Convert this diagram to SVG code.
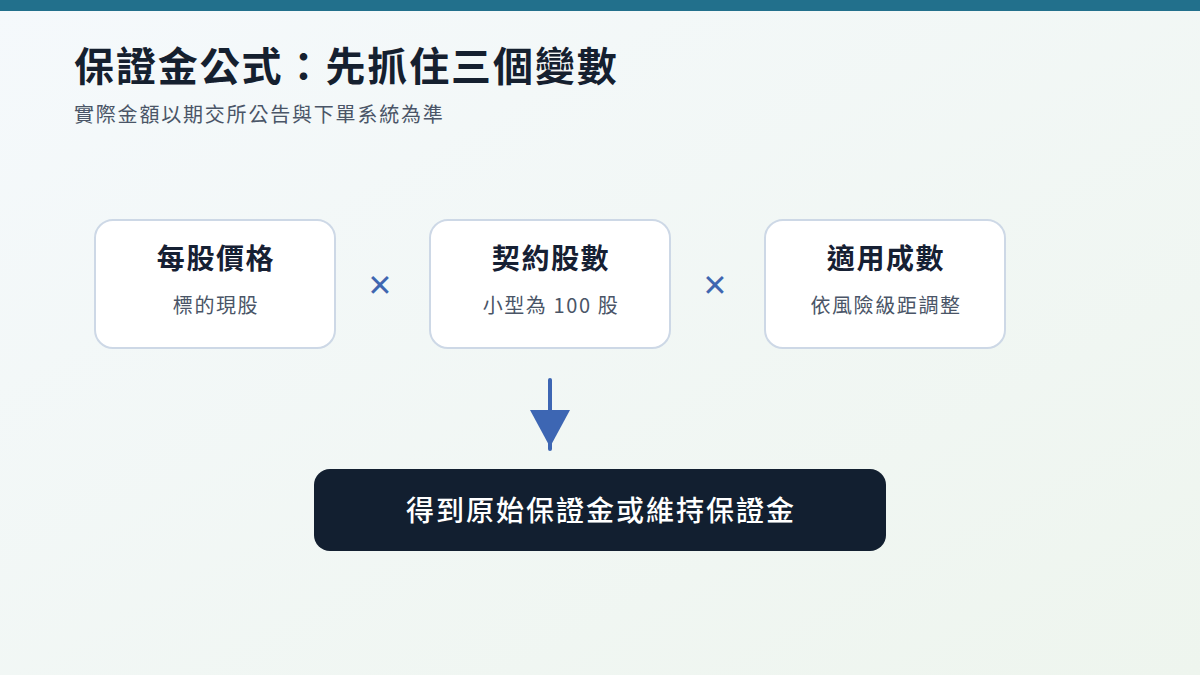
<svg xmlns="http://www.w3.org/2000/svg" width="1200" height="675" viewBox="0 0 1200 675">
<defs>
<linearGradient id="bg" x1="0" y1="0" x2="1" y2="1">
<stop offset="0" stop-color="#f5f9fc"/>
<stop offset="1" stop-color="#eef5ee"/>
</linearGradient>
<style>
.t{font-family:"Noto Sans CJK TC","Noto Sans CJK SC",sans-serif}
.card{fill:#ffffff;stroke:#cdd8e6;stroke-width:2}
.ct{font-size:28px;font-weight:700;fill:#162033;text-anchor:middle;letter-spacing:1.6px}
.cs{font-size:20px;fill:#4a5567;text-anchor:middle;letter-spacing:1.6px}
.x{font-size:40px;fill:#3f66b0;text-anchor:middle;font-family:"Noto Sans","DejaVu Sans",sans-serif}
</style>
</defs>
<rect width="1200" height="675" fill="url(#bg)"/>
<rect width="1200" height="11" fill="#22708c"/>
<text class="t" x="74" y="81" font-size="40" font-weight="700" fill="#15202f" letter-spacing="1.9">保證金公式：先抓住三個變數</text>
<text class="t" x="74" y="122" font-size="20" fill="#4a5567" letter-spacing="1.8">實際金額以期交所公告與下單系統為準</text>

<g id="node-price">
<rect class="card" x="95" y="220" width="240" height="128" rx="18"/>
<text class="t ct" x="216" y="269">每股價格</text>
<text class="t cs" x="216" y="313">標的現股</text>
</g>
<g id="node-shares">
<rect class="card" x="430" y="220" width="240" height="128" rx="18"/>
<text class="t ct" x="551" y="269">契約股數</text>
<text class="t cs" x="551" y="313">小型為 100 股</text>
</g>
<g id="node-ratio">
<rect class="card" x="765" y="220" width="240" height="128" rx="18"/>
<text class="t ct" x="886" y="269">適用成數</text>
<text class="t cs" x="886" y="313">依風險級距調整</text>
</g>
<g id="operators">
<text class="x" x="380" y="299">×</text>
<text class="x" x="715" y="299">×</text>
</g>
<g id="connectors">
<line x1="550" y1="380" x2="550" y2="449" stroke="#3d66b3" stroke-width="4" stroke-linecap="round"/>
<polygon points="530,410 570,410 550,447" fill="#3d66b3"/>
</g>
<g id="node-result">
<rect x="314" y="469" width="572" height="82" rx="16" fill="#121f30"/>
<text class="t" x="601" y="521" font-size="28" font-weight="500" fill="#ffffff" text-anchor="middle" letter-spacing="2">得到原始保證金或維持保證金</text>
</g>
</svg>
